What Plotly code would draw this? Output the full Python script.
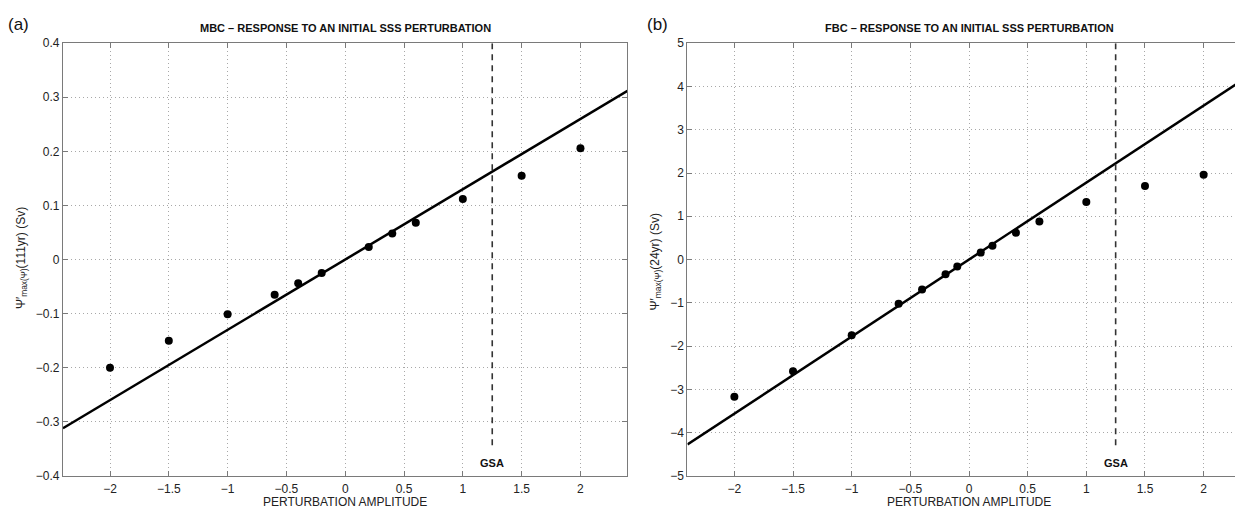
import plotly.graph_objects as go

# ---- data ----
x_mbc = [-2, -1.5, -1, -0.6, -0.4, -0.2, 0.2, 0.4, 0.6, 1, 1.5, 2]
y_mbc = [-0.200, -0.150, -0.101, -0.065, -0.044, -0.025, 0.023, 0.048, 0.068, 0.112, 0.155, 0.206]
x_fbc = [-2, -1.5, -1, -0.6, -0.4, -0.2, -0.1, 0.1, 0.2, 0.4, 0.6, 1, 1.5, 2]
y_fbc = [-3.17, -2.58, -1.75, -1.02, -0.69, -0.34, -0.16, 0.16, 0.32, 0.62, 0.88, 1.33, 1.70, 1.96]
slope_mbc = 0.13
slope_fbc = 1.78
fit_x = [-2.4, 2.4]
GSA = 1.25
gsa_y_mbc = [0.4, -0.35]
gsa_y_fbc = [5, -4.4]
xticks = [-2, -1.5, -1, -0.5, 0, 0.5, 1, 1.5, 2]
xtick_text = ["−2", "−1.5", "−1", "−0.5", "0", "0.5", "1", "1.5", "2"]

FONT = "Liberation Sans, Arial, Helvetica, sans-serif"
OFF = 8            # page body margin (figure starts at 8,8 in the window)
W, H = 1243 - OFF, 514 - OFF

fig = go.Figure()

def add_panel(xs, ys, slope, gsa_y, xa, ya):
    fig.add_trace(go.Scatter(x=fit_x, y=[slope * v for v in fit_x], mode="lines",
                             line=dict(color="black", width=2.5), xaxis=xa, yaxis=ya,
                             showlegend=False))
    fig.add_trace(go.Scatter(x=[GSA, GSA], y=gsa_y, mode="lines",
                             line=dict(color="#333", width=1.6, dash="6px,5px"),
                             xaxis=xa, yaxis=ya, showlegend=False))
    fig.add_trace(go.Scatter(x=xs, y=ys, mode="markers",
                             marker=dict(color="black", size=8, symbol="circle"),
                             xaxis=xa, yaxis=ya, showlegend=False))

add_panel(x_mbc, y_mbc, slope_mbc, gsa_y_mbc, "x", "y")
add_panel(x_fbc, y_fbc, slope_fbc, gsa_y_fbc, "x2", "y2")

def px_x(p):
    return (p - OFF) / W

def px_y(p):
    return 1 - (p - OFF) / H

ydom = [px_y(482), px_y(37)]
axis_common = dict(showgrid=True, gridcolor="#a8a8a8", griddash="1px,3px", gridwidth=1,
                   zeroline=False, showline=True, linecolor="#7a7a7a", linewidth=1,
                   mirror="ticks", ticks="inside", ticklen=5, tickcolor="#7a7a7a",
                   tickfont=dict(family=FONT, size=12, color="#222"))

fig.update_layout(
    width=W, height=H, margin=dict(l=0, r=0, t=0, b=0),
    plot_bgcolor="white", paper_bgcolor="white",
    xaxis=dict(domain=[px_x(63), px_x(628)], range=[-2.4, 2.4], tickvals=xticks,
               ticktext=xtick_text, anchor="y", ticklabelstandoff=2, **axis_common),
    yaxis=dict(domain=ydom, range=[-0.4, 0.4], dtick=0.1, tick0=0, anchor="x",
               **axis_common),
    xaxis2=dict(domain=[px_x(688), 1.0], range=[-2.4, 2.327], tickvals=xticks,
                ticktext=xtick_text, anchor="y2", ticklabelstandoff=2, **axis_common),
    yaxis2=dict(domain=ydom, range=[-5, 5], dtick=1, tick0=0, anchor="x2",
                **axis_common),
)

def A(**kw):
    kw.setdefault("showarrow", False)
    kw.setdefault("xanchor", "center")
    kw.setdefault("yanchor", "middle")
    return kw

ann = []
ann.append(A(x=0, xref="x", y=px_y(21), yref="paper",
             text="<b>MBC – RESPONSE TO AN INITIAL SSS PERTURBATION</b>",
             font=dict(family=FONT, size=11, color="#111")))
ann.append(A(x=0, xref="x2", y=px_y(21), yref="paper",
             text="<b>FBC – RESPONSE TO AN INITIAL SSS PERTURBATION</b>",
             font=dict(family=FONT, size=11, color="#111")))
ann.append(A(x=px_x(19), xref="paper", y=px_y(18), yref="paper", text="(a)",
             font=dict(family=FONT, size=17, color="#111")))
ann.append(A(x=px_x(658), xref="paper", y=px_y(18), yref="paper", text="(b)",
             font=dict(family=FONT, size=17, color="#111")))
ann.append(A(x=0, xref="x", y=px_y(509), yref="paper", text="PERTURBATION AMPLITUDE",
             font=dict(family=FONT, size=12, color="#222")))
ann.append(A(x=0, xref="x2", y=px_y(509), yref="paper", text="PERTURBATION AMPLITUDE",
             font=dict(family=FONT, size=12, color="#222")))
ann.append(A(x=px_x(22), xref="paper", y=px_y(258), yref="paper",
             text="Ψ′<sub>max(Ψ)</sub>(111yr) (Sv)", textangle=-90,
             font=dict(family=FONT, size=12, color="#222")))
ann.append(A(x=px_x(656), xref="paper", y=px_y(262), yref="paper",
             text="Ψ′<sub>max(Ψ)</sub>(24yr) (Sv)", textangle=-90,
             font=dict(family=FONT, size=12, color="#222")))
ann.append(A(x=GSA, xref="x", y=-0.3755, yref="y", text="<b>GSA</b>",
             font=dict(family=FONT, size=11, color="#111")))
ann.append(A(x=GSA, xref="x2", y=-4.70, yref="y2", text="<b>GSA</b>",
             font=dict(family=FONT, size=11, color="#111")))
fig.update_layout(annotations=ann)

fig.write_html("out.html")
